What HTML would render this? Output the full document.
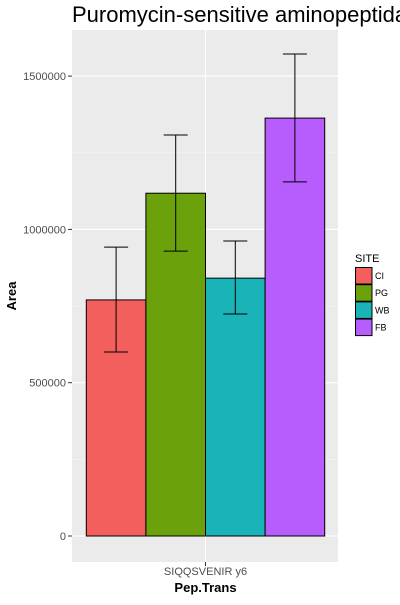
<!DOCTYPE html>
<html><head><meta charset="utf-8"><style>
body{margin:0;background:#fff;width:400px;height:600px;overflow:hidden}
svg{font-family:"Liberation Sans",sans-serif}
</style></head><body>
<svg id="chart" width="400" height="600">
<text x="72" y="22" font-size="22" fill="#000">Puromycin-sensitive aminopeptidase</text>
<rect x="72" y="30" width="266" height="532" fill="#ebebeb"/>
<g id="grid"></g>
<g id="bars"></g>
<g id="yticks"></g>
<text x="205.5" y="575" font-size="11" fill="#4d4d4d" text-anchor="middle">SIQQSVENIR y6</text>
<text x="205.5" y="592" font-size="13" font-weight="bold" text-anchor="middle">Pep.Trans</text>
<text transform="translate(16,296) rotate(-90)" font-size="13" font-weight="bold" text-anchor="middle">Area</text>
<g id="legend">
<text x="355" y="262" font-size="11">SITE</text>
</g>
</svg>
<script>
const categories=["CI","PG","WB","FB"];
const values=[770000,1118000,841000,1363000];
const errLow=[600000,929000,724000,1155000];
const errHigh=[942000,1308000,962000,1572000];
const colors=["#f25f5c","#6ba10a","#1ab4b8","#b75cfd"];
const tickValues=[0,500000,1000000,1500000];
const tickLabels=["0","500000","1000000","1500000"];
const NS="http://www.w3.org/2000/svg";
function y(v){return 536-v*(153.3/500000);}
function mk(t,a,p){const e=document.createElementNS(NS,t);for(const k in a)e.setAttribute(k,a[k]);p.appendChild(e);return e;}
const grid=document.getElementById('grid'),yt=document.getElementById('yticks'),bars=document.getElementById('bars'),lg=document.getElementById('legend');
for(let i=0;i<tickValues.length;i++){
 const yy=y(tickValues[i]);
 const g=mk('line',{x1:72,x2:338,y1:yy,y2:yy,stroke:'#fff','stroke-width':1.1},grid);
 
 
 if(i<tickValues.length-1){const ym=y((tickValues[i]+tickValues[i+1])/2);
  const m=mk('line',{x1:72,x2:338,y1:ym,y2:ym,stroke:'#f5f5f5','stroke-width':0.6},grid);
  
  }
 const tk=mk('line',{x1:68,x2:72,y1:yy,y2:yy,stroke:'#333'},yt);
 
 
 const t=mk('text',{x:66,y:yy+4,'font-size':11,fill:'#4d4d4d','text-anchor':'end'},yt);
 t.textContent=tickLabels[i];
 
 
}
const vg=mk('line',{x1:205.5,x2:205.5,y1:30,y2:562,stroke:'#fff','stroke-width':1.1},grid);


mk('line',{x1:205.5,x2:205.5,y1:562,y2:566,stroke:'#333'},yt);
const bw=59.6,x0=86.3;
categories.forEach((c,i)=>{
 const x=x0+i*bw;
 const r=mk('rect',{x:x,y:y(values[i]),width:bw,height:536-y(values[i]),fill:colors[i],stroke:'#000','stroke-width':1},bars);
 
 
 const cx=x+bw/2;
 const e=mk('path',{d:`M${cx-12},${y(errHigh[i])}H${cx+12}M${cx},${y(errHigh[i])}V${y(errLow[i])}M${cx-12},${y(errLow[i])}H${cx+12}`,stroke:'#000','stroke-width':1,fill:'none'},bars);
 
 
 const k=mk('rect',{x:355.5,y:267.5+i*17.2,width:16.5,height:16.5,fill:colors[i],stroke:'#000','stroke-width':1},lg);
 
 
 const t=mk('text',{x:375,y:279+i*17.2,'font-size':9},lg);
 t.textContent=c;
 
 
});
</script>
</body></html>
